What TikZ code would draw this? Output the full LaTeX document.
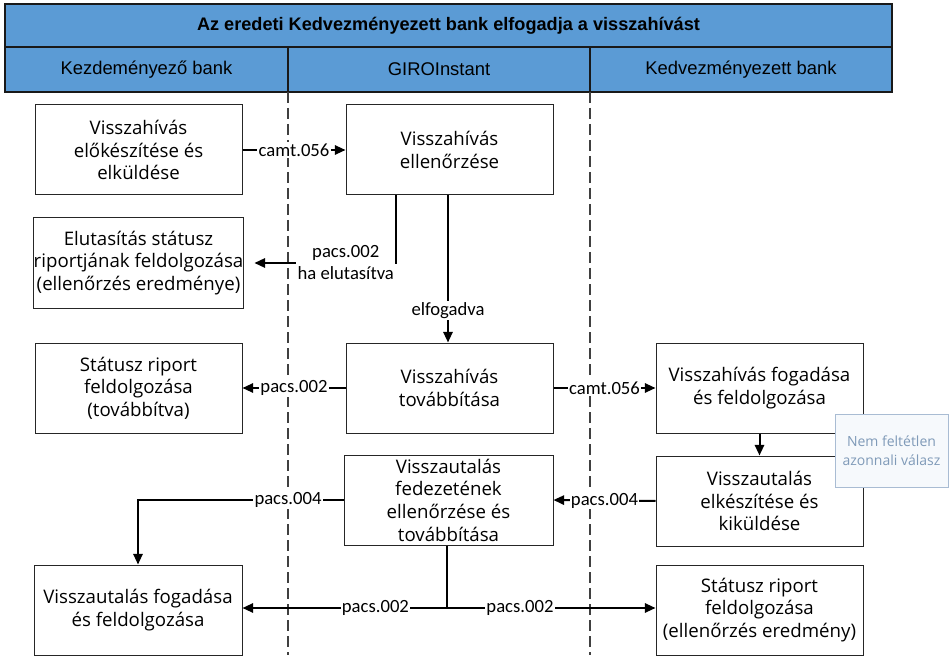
\documentclass[tikz,border=0pt]{standalone}
\usepackage{fontspec}
\setmainfont{Open Sans}
\newfontfamily\hdrfont{Liberation Sans}
\newfontfamily\lblfont{Carlito}
\usetikzlibrary{arrows.meta}
\definecolor{hdrblue}{HTML}{5B9BD5}
\definecolor{notetext}{HTML}{7F9AB8}
\definecolor{noteborder}{HTML}{A9BCD3}
\definecolor{notefill}{HTML}{F6F9FC}
\tikzset{
  procbox/.style={draw=black!85, line width=0.75pt, fill=white, minimum width=155.25pt, minimum height=67.5pt, align=center, inner sep=0pt, font=\fontsize{14}{17}\selectfont},
  hdr/.style={draw=black!90, line width=1pt, fill=hdrblue, inner sep=0pt, align=center},
  flow/.style={line width=1.5pt, -{Triangle[length=8pt,width=7pt]}},
  plainflow/.style={line width=1.5pt},
  lbl/.style={fill=white, inner sep=1pt, align=center, font=\lblfont\fontsize{14}{16.5}\selectfont},
  lane/.style={line width=1pt, black!75, dash pattern=on 8pt off 4pt},
  notebox/.style={draw=noteborder, line width=0.75pt, fill=notefill, align=center, text=notetext, inner sep=0pt, minimum width=84.75pt, minimum height=54.75pt, font=\fontsize{10.5}{14}\selectfont}
}
\begin{document}
\begin{tikzpicture}[x=0.75pt, y=-0.75pt]
\useasboundingbox (0,0) rectangle (950,663);
% header
\node[hdr, minimum width=665.25pt, minimum height=32.25pt, font=\hdrfont\bfseries\fontsize{13.6}{16}\selectfont] (title) at (448.5,25.5) {Az eredeti Kedvezményezett bank elfogadja a visszahívást};
\node[hdr, minimum width=212.25pt, minimum height=33.75pt, font=\hdrfont\fontsize{13.8}{16}\selectfont] (h1) at (146.5,69.5) {Kezdeményező bank};
\node[hdr, minimum width=226.5pt, minimum height=33.75pt, font=\hdrfont\fontsize{13.8}{16}\selectfont] (h2) at (439,69.5) {GIROInstant};
\node[hdr, minimum width=226.5pt, minimum height=33.75pt, font=\hdrfont\fontsize{13.8}{16}\selectfont] (h3) at (741,69.5) {Kedvezményezett bank};
% lanes
\coordinate (l1t) at (288,92); \coordinate (l1b) at (288,655);
\coordinate (l2t) at (590,92); \coordinate (l2b) at (590,655);
\draw[lane] (l1t) -- (l1b);
\draw[lane] (l2t) -- (l2b);
% boxes
\node[procbox] (A) at (138.5,150) {Visszahívás\\előkészítése és\\elküldése};
\node[procbox] (B) at (449.5,150) {Visszahívás\\ellenőrzése};
\node[procbox] (C) at (138.5,263) {Elutasítás státusz\\riportjának feldolgozása\\(ellenőrzés eredménye)};
\node[procbox] (D) at (138.5,388) {Státusz riport\\feldolgozása\\(továbbítva)};
\node[procbox] (E) at (449.5,388) {Visszahívás\\továbbítása};
\node[procbox] (F) at (759.5,388) {Visszahívás fogadása\\és feldolgozása};
\node[procbox, minimum width=156.75pt] (G) at (448.5,500) {Visszautalás\\fedezetének\\ellenőrzése és\\továbbítása};
\node[procbox] (H) at (759.5,501) {Visszautalás\\elkészítése és\\kiküldése};
\node[procbox, minimum width=156pt] (I) at (138,610) {Visszautalás fogadása\\és feldolgozása};
\node[procbox] (J) at (759.5,610) {Státusz riport\\feldolgozása\\(ellenőrzés eredmény)};
% note
\node[notebox] (N) at (891.5,450.5) {Nem feltétlen\\azonnali válasz};
% connectors
\draw[flow] (A) -- node[lbl]{camt.056} (B);
\draw[flow, shorten >=8pt] ([xshift=-53.5*0.75pt]B.south) |- node[lbl, pos=0.665]{pacs.002\\ha elutasítva} (C.east);
\draw[flow] ([xshift=-1.5*0.75pt]B.south) -- node[lbl, pos=0.78]{elfogadva} ([xshift=-1.5*0.75pt]E.north);
\draw[flow] (E) -- node[lbl]{pacs.002} (D);
\draw[flow] (E) -- node[lbl]{camt.056} (F);
\draw[flow] (F) -- (H);
\draw[flow] (H.west) -- node[lbl]{pacs.004} (G.east);
\draw[flow] (G.west) -| node[lbl, pos=0.135]{pacs.004} (I.north);
\coordinate (jn) at (447,608);
\draw[plainflow] ([xshift=-1.5*0.75pt]G.south) -- (jn);
\draw[flow] (jn) -- node[lbl, pos=0.35]{pacs.002} (I.east |- jn);
\draw[flow] (jn) -- node[lbl, pos=0.35]{pacs.002} (J.west |- jn);
\end{tikzpicture}
\end{document}
